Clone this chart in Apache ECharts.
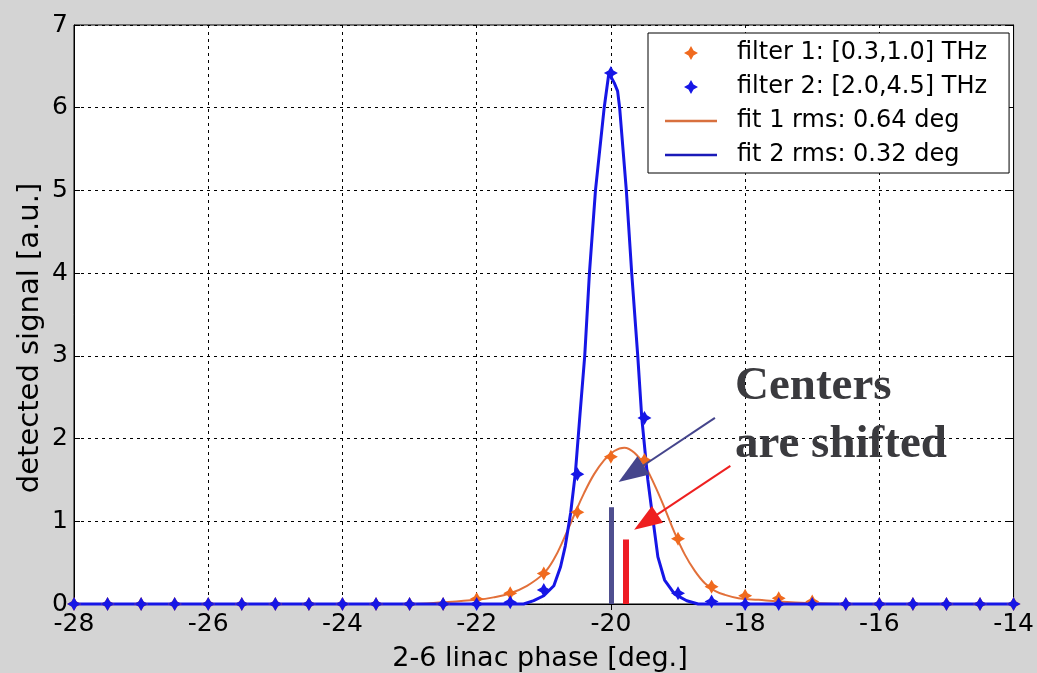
<!DOCTYPE html>
<html>
<head>
<meta charset="utf-8">
<script src="https://cdn.jsdelivr.net/npm/echarts@6/dist/echarts.min.js"></script>
<style>
html,body{margin:0;padding:0;background:#d4d4d4;}
#chart{width:1037px;height:673px;}
</style>
</head>
<body>
<div id="chart"></div>
<script>
// ---- data ----
const phase = [-28,-27.5,-27,-26.5,-26,-25.5,-25,-24.5,-24,-23.5,-23,-22.5,-22,-21.5,-21,-20.5,-20,-19.5,-19,-18.5,-18,-17.5,-17,-16.5,-16,-15.5,-15,-14.5,-14];
const filter1 = [0,0,0,0,0,0,0,0,0,0,0,0,0.06,0.13,0.37,1.11,1.78,1.74,0.79,0.21,0.10,0.07,0.03,0,0,0,0,0,0];
const filter2 = [0,0,0,0,0,0,0,0,0,0,0,0,0,0.02,0.17,1.57,6.42,2.25,0.13,0.03,0,0,0,0,0,0,0,0,0];

const fit1X = [-28,-23,-22.5,-22,-21.75,-21.5,-21.25,-21,-20.85,-20.7,-20.55,-20.4,-20.25,-20.1,-19.95,-19.8,-19.65,-19.5,-19.35,-19.2,-19.05,-18.9,-18.75,-18.6,-18.45,-18.3,-18.1,-17.8,-17.5,-17,-16.5,-14];
const fit1Y = [0,0,0.02,0.05,0.08,0.13,0.22,0.37,0.54,0.79,1.07,1.34,1.57,1.74,1.85,1.89,1.83,1.68,1.44,1.16,0.86,0.60,0.40,0.25,0.16,0.11,0.07,0.05,0.03,0.01,0,0];

const fit2X = [-28,-21.3,-21.15,-21,-20.85,-20.75,-20.68,-20.6,-20.53,-20.46,-20.39,-20.32,-20.23,-20.1,-20.03,-19.95,-19.9,-19.87,-19.77,-19.69,-19.6,-19.54,-19.45,-19.37,-19.3,-19.2,-19.05,-18.87,-18.7,-14];
const fit2Y = [0,0,0.04,0.10,0.22,0.45,0.70,1.10,1.58,2.30,3.0,4.0,5.0,6.0,6.42,6.30,6.20,6.0,5.0,4.0,3.0,2.25,1.50,1.0,0.57,0.29,0.12,0.04,0,0];

const seriesNames = ['filter 1: [0.3,1.0] THz','filter 2: [2.0,4.5] THz','fit 1 rms: 0.64 deg','fit 2 rms: 0.32 deg'];

// annotation anchors (data coordinates)
const center2 = -20.0, bar2Top = 1.17;
const center1 = -19.78, bar1Top = 0.78;
const arrowBlue = [[-18.45, 2.25], [-19.70, 1.575]];
const arrowRed  = [[-18.22, 1.67], [-19.48, 0.99]];

// ---- styling ----
const ORANGE = '#f06a1e';
const BLUE = '#1616e6';
const STAR = 'path://M0,-10 L3.6,-3.6 L10,0 L3.6,3.6 L0,10 L-3.6,3.6 L-10,0 L-3.6,-3.6 Z';
const LINEICON = 'path://M0,0 L52,0 L52,2.4 L0,2.4 Z';
const FONT = 'DejaVu Sans';

const chart = echarts.init(document.getElementById('chart'));
chart.setOption({
  backgroundColor: '#d4d4d4',
  animation: false,
  grid: {left: 74, right: 15, top: 25, bottom: 69, show: true, backgroundColor: '#ffffff', borderColor: '#000', borderWidth: 1},
  xAxis: [{
    type: 'value', min: -28, max: -14, interval: 2,
    axisLine: {show: true, onZero: false, lineStyle: {color: '#000'}},
    axisTick: {show: true, inside: true, length: 6, lineStyle: {color: '#000'}},
    axisLabel: {fontFamily: FONT, fontSize: 25, color: '#000', margin: 8},
    splitLine: {show: true, lineStyle: {color: '#000', type: [3, 4], width: 1}}
  }, {
    type: 'value', min: -28, max: -14, interval: 2, position: 'top',
    axisLine: {show: true, lineStyle: {color: '#000'}},
    axisTick: {show: true, inside: true, length: 6, lineStyle: {color: '#000'}},
    axisLabel: {show: false}, splitLine: {show: false}
  }],
  yAxis: [{
    type: 'value', min: 0, max: 7, interval: 1,
    axisLine: {show: true, lineStyle: {color: '#000'}},
    axisTick: {show: true, inside: true, length: 6, lineStyle: {color: '#000'}},
    axisLabel: {fontFamily: FONT, fontSize: 25, color: '#000', margin: 6},
    splitLine: {show: true, lineStyle: {color: '#000', type: [3, 4], width: 1}}
  }, {
    type: 'value', min: 0, max: 7, interval: 1, position: 'right',
    axisLine: {show: true, lineStyle: {color: '#000'}},
    axisTick: {show: true, inside: true, length: 6, lineStyle: {color: '#000'}},
    axisLabel: {show: false}, splitLine: {show: false}
  }],
  legend: {
    orient: 'vertical', left: 648, top: 33,
    padding: [6, 22, 4, 17], itemGap: 6, itemWidth: 52, itemHeight: 14,
    backgroundColor: '#fff', borderColor: '#000', borderWidth: 1,
    textStyle: {fontFamily: FONT, fontSize: 24, color: '#000', lineHeight: 28, padding: [0, 0, 0, 15]},
    data: [
      {name: seriesNames[0], icon: STAR},
      {name: seriesNames[1], icon: STAR},
      {name: seriesNames[2], icon: LINEICON, itemStyle: {color: '#d8703e'}},
      {name: seriesNames[3], icon: LINEICON, itemStyle: {color: '#1a1ab8'}}
    ]
  },
  series: [
    {
      name: seriesNames[2], type: 'line', z: 2,
      data: fit1X.map((x, i) => [x, fit1Y[i]]),
      showSymbol: false, symbol: 'none', smooth: 0.4, clip: false,
      lineStyle: {color: '#e2703a', width: 2}, itemStyle: {color: '#e2703a'}
    },
    {
      name: seriesNames[3], type: 'line', z: 3,
      data: fit2X.map((x, i) => [x, fit2Y[i]]),
      showSymbol: false, symbol: 'none', smooth: false, clip: false,
      lineStyle: {color: BLUE, width: 3}, itemStyle: {color: BLUE},
      markLine: {
        silent: true, animation: false, z: 10,
        label: {show: false},
        data: [
          [{coord: [center2, 0], symbol: 'none', lineStyle: {color: '#4f4f8f', width: 5, type: 'solid'}},
           {coord: [center2, bar2Top], symbol: 'none'}],
          [{coord: [center1, 0], symbol: 'none', lineStyle: {color: '#ee1c24', width: 6, type: 'solid'}},
           {coord: [center1, bar1Top], symbol: 'none'}],
          [{coord: arrowBlue[0], symbol: 'none', lineStyle: {color: '#45458c', width: 2, type: 'solid'}, itemStyle: {color: '#4a4a8e'}},
           {coord: arrowBlue[1], symbol: 'triangle', symbolSize: [22, 30], itemStyle: {color: '#4a4a8e'}}],
          [{coord: arrowRed[0], symbol: 'none', lineStyle: {color: '#ee2020', width: 2, type: 'solid'}, itemStyle: {color: '#ee1c24'}},
           {coord: arrowRed[1], symbol: 'triangle', symbolSize: [20, 28], itemStyle: {color: '#ee1c24'}}]
        ]
      }
    },
    {
      name: seriesNames[0], type: 'scatter', z: 4,
      data: phase.map((x, i) => [x, filter1[i]]),
      symbol: STAR, symbolSize: 14, clip: false,
      itemStyle: {color: ORANGE, opacity: 1}
    },
    {
      name: seriesNames[1], type: 'scatter', z: 5,
      data: phase.map((x, i) => [x, filter2[i]]),
      symbol: STAR, symbolSize: 14, clip: false,
      itemStyle: {color: BLUE, opacity: 1}
    }
  ],
  graphic: [
    {type: 'text', x: 540, y: 659, z: 20,
     style: {text: '2-6 linac phase [deg.]', fontFamily: FONT, fontSize: 27, fill: '#000', align: 'center', verticalAlign: 'middle'}},
    {type: 'text', x: 30, y: 338, rotation: Math.PI / 2, z: 20,
     style: {text: 'detected signal [a.u.]', fontFamily: FONT, fontSize: 29, fill: '#000', align: 'center', verticalAlign: 'middle'}},
    {type: 'text', x: 735, y: 387, z: 20,
     style: {text: 'Centers', fontFamily: 'Liberation Serif', fontWeight: 'bold', fontSize: 47, fill: '#3a3a3e', align: 'left', verticalAlign: 'middle'}},
    {type: 'text', x: 735, y: 445, z: 20,
     style: {text: 'are shifted', fontFamily: 'Liberation Serif', fontWeight: 'bold', fontSize: 47, fill: '#3a3a3e', align: 'left', verticalAlign: 'middle'}}
  ]
});
</script>
</body>
</html>
